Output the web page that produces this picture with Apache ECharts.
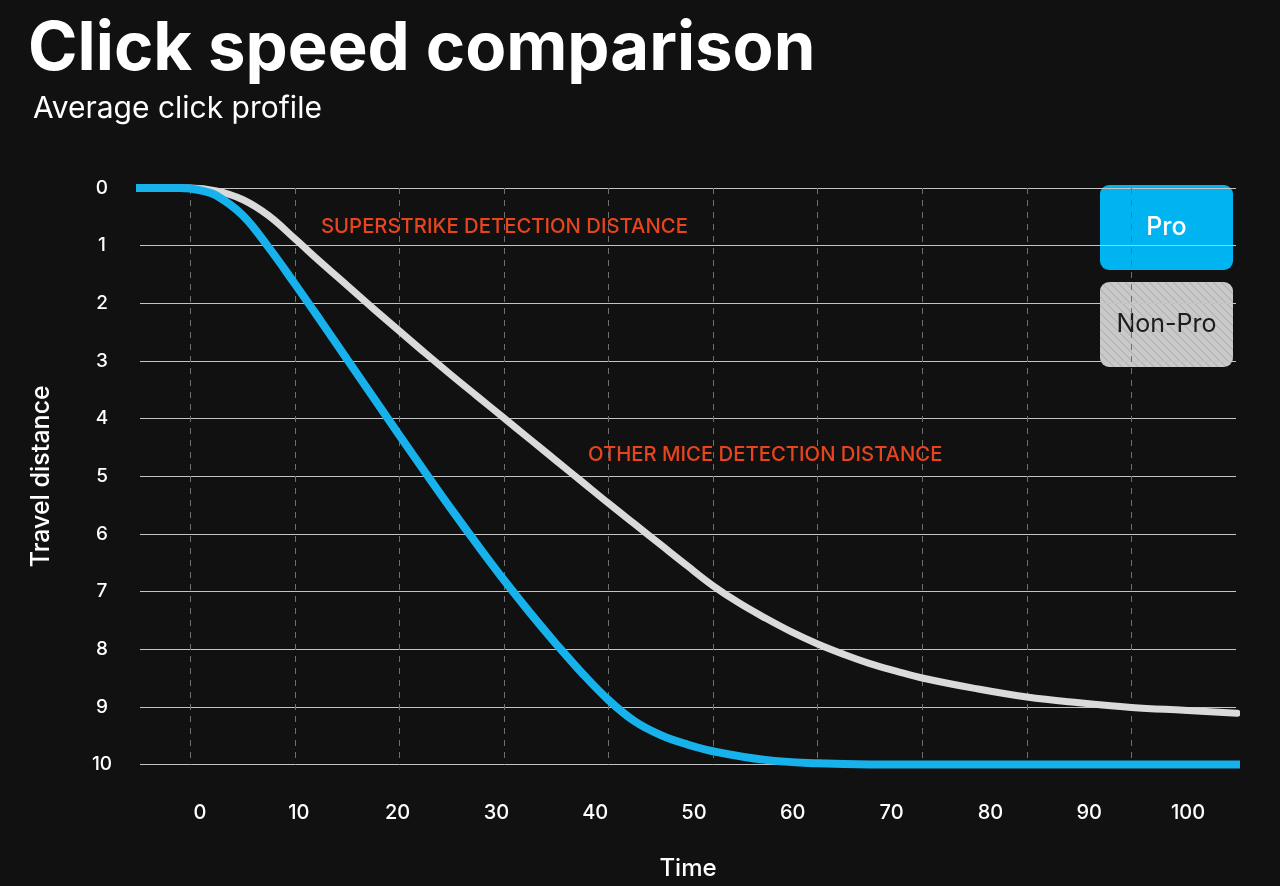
<!DOCTYPE html>
<html>
<head>
    <meta charset="utf-8">
    <title>Click speed comparison</title>
    <script src="https://cdn.jsdelivr.net/npm/echarts@6.0.0/dist/echarts.min.js"></script>
    <style>
        html, body { margin: 0; padding: 0; background: #111111; }
        #main { width: 1280px; height: 886px; }
    </style>
</head>
<body>
<div id="main"></div>
<script type="text/javascript">
    // tick labels
    var timeTicks = [0, 10, 20, 30, 40, 50, 60, 70, 80, 90, 100];
    var gridTicks = [0, 10, 20, 30, 40, 50, 60, 70, 80, 90];
    // [time, travel distance]
    var proData = [
        [-5.6, 0], [-3, 0], [-1, 0], [0, 0.01], [1, 0.04], [2.5, 0.13], [5, 0.47],
        [7.5, 1.03], [10, 1.66], [12.5, 2.31], [15, 2.97], [17.5, 3.63], [20, 4.29],
        [22.5, 4.94], [25, 5.58], [27.5, 6.2], [30, 6.8], [32.5, 7.37], [35, 7.91],
        [37.5, 8.42], [40, 8.88], [42.5, 9.25], [45, 9.49], [47.5, 9.65], [50, 9.77],
        [55, 9.92], [60, 9.98], [65, 10], [75, 10], [85, 10], [100.3, 10]
    ];
    var nonProData = [
        [-5.6, 0], [-3, 0], [-1, 0], [0, 0], [2.5, 0.05], [5, 0.2], [7.5, 0.48],
        [10, 0.88], [12.5, 1.29], [15, 1.69], [17.5, 2.09], [20, 2.48], [22.5, 2.87],
        [25, 3.25], [27.5, 3.62], [30, 3.99], [32.5, 4.36], [35, 4.73], [37.5, 5.1],
        [40, 5.47], [42.5, 5.83], [45, 6.19], [47.5, 6.55], [50, 6.9], [52.5, 7.2],
        [55, 7.46], [57.5, 7.7], [60, 7.91], [62.5, 8.09], [65, 8.25], [67.5, 8.38],
        [70, 8.5], [75, 8.68], [80, 8.83], [85, 8.93], [90, 9.01], [95, 9.06], [100.1, 9.11]
    ];

    var FONT = 'Inter, "Noto Sans", sans-serif';

    // hatched fill for the Non-Pro box
    var hatch = document.createElement('canvas');
    hatch.width = 8; hatch.height = 8;
    var hc = hatch.getContext('2d');
    hc.fillStyle = '#c9c9c9';
    hc.fillRect(0, 0, 8, 8);
    hc.strokeStyle = '#b3b3b3';
    hc.lineWidth = 1.2;
    hc.beginPath();
    hc.moveTo(0, 0); hc.lineTo(8, 8);
    hc.moveTo(-4, 4); hc.lineTo(4, 12);
    hc.moveTo(4, -4); hc.lineTo(12, 4);
    hc.stroke();

    var myChart = echarts.init(document.getElementById('main'));
    var option = {
        backgroundColor: '#111111',
        animation: false,
        grid: { left: 140, right: 44, top: 188, bottom: 121.5 },
        xAxis: [
            {   // data axis, dashed guides
                type: 'value',
                min: -4.8,
                max: 100,
                axisLine: { show: false },
                axisTick: { show: false, customValues: gridTicks },
                axisLabel: { show: false },
                splitLine: {
                    show: true,
                    lineStyle: { color: '#6e6e6e', type: [6, 6], width: 1 }
                }
            },
            {   // label axis
                type: 'value',
                min: -6.07,
                max: 104.86,
                position: 'bottom',
                name: 'Time',
                nameLocation: 'middle',
                nameGap: 92,
                nameTextStyle: { color: '#ffffff', fontSize: 24, fontWeight: 500, fontFamily: FONT },
                axisLine: { show: false },
                axisTick: { show: false },
                splitLine: { show: false },
                axisLabel: {
                    customValues: timeTicks,
                    color: '#ffffff',
                    fontSize: 20,
                    fontWeight: 500,
                    fontFamily: FONT,
                    margin: 38
                }
            }
        ],
        yAxis: {
            type: 'value',
            inverse: true,
            min: 0,
            max: 10,
            interval: 1,
            name: 'Travel distance',
            nameLocation: 'middle',
            nameGap: 86,
            nameTextStyle: { color: '#ffffff', fontSize: 25, fontWeight: 500, fontFamily: FONT },
            axisLine: { show: false },
            axisTick: { show: false },
            axisLabel: {
                color: '#ffffff',
                fontSize: 19,
                fontWeight: 500,
                fontFamily: FONT,
                align: 'center',
                margin: 38
            },
            splitLine: { lineStyle: { color: '#c4c4c4', width: 1.2 } }
        },
        series: [
            {
                name: 'Non-Pro',
                type: 'line',
                xAxisIndex: 0,
                data: nonProData,
                smooth: 0.4,
                showSymbol: false,
                clip: false,
                lineStyle: { color: '#dadada', width: 7, cap: 'round' }
            },
            {
                name: 'Pro',
                type: 'line',
                xAxisIndex: 0,
                data: proData,
                smooth: 0.4,
                showSymbol: false,
                clip: false,
                lineStyle: { color: '#17b1ec', width: 8, cap: 'round' }
            }
        ],
        graphic: [
            {
                type: 'text', left: 28, top: 16,
                style: { text: 'Click speed comparison', fill: '#ffffff', fontSize: 67, fontWeight: 700, fontFamily: FONT }
            },
            {
                type: 'text', left: 33, top: 94,
                style: { text: 'Average click profile', fill: '#ffffff', fontSize: 30, fontWeight: 400, fontFamily: FONT }
            },
            {
                type: 'text', left: 321, top: 217,
                style: { text: 'SUPERSTRIKE DETECTION DISTANCE', fill: '#e8441d', fontSize: 20.3, fontWeight: 500, fontFamily: FONT }
            },
            {
                type: 'text', left: 588, top: 445,
                style: { text: 'OTHER MICE DETECTION DISTANCE', fill: '#e8441d', fontSize: 20.3, fontWeight: 500, fontFamily: FONT }
            },
            {
                type: 'group', left: 1100, top: 185,
                children: [
                    {
                        type: 'rect',
                        shape: { x: 0, y: 0, width: 133, height: 85, r: 9 },
                        style: { fill: '#00b4f2' }
                    },
                    {
                        type: 'text', x: 66.5, y: 42.5,
                        style: { text: 'Pro', fill: '#ffffff', fontSize: 25, fontWeight: 500, fontFamily: FONT, align: 'center', verticalAlign: 'middle' }
                    },
                    {
                        type: 'rect',
                        shape: { x: 0, y: 97, width: 133, height: 85, r: 9 },
                        style: { fill: { image: hatch, repeat: 'repeat' } }
                    },
                    {
                        type: 'text', x: 66.5, y: 139.5,
                        style: { text: 'Non-Pro', fill: '#1c1c1c', fontSize: 25, fontWeight: 400, fontFamily: FONT, align: 'center', verticalAlign: 'middle' }
                    }
                ]
            }
        ]
    };
    myChart.setOption(option);
</script>
</body>
</html>
